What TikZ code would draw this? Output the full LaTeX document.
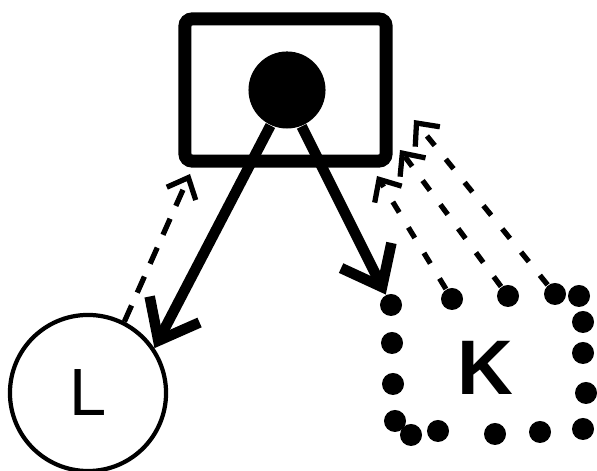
\documentclass[tikz,border=0pt]{standalone}
\usepackage{fontspec}
\setmainfont{Liberation Sans}
\usetikzlibrary{arrows.meta}
\tikzset{
  frame/.style={draw, line width=3.7pt, rounded corners=2pt, minimum width=2.01cm, minimum height=1.42cm, inner sep=0},
  hub/.style={circle, fill=black, minimum size=0.77cm, inner sep=0},
  pool/.style={circle, draw, line width=1.2pt, minimum size=1.56cm, inner sep=0, font=\fontsize{19}{19}\selectfont},
  dot/.style={circle, fill=black, minimum size=0.22cm, inner sep=0},
  heavy/.style={line width=3pt, ->, >={Straight Barb[length=10pt,width=16pt]}},
  weak/.style={line width=1.5pt, ->, >={Straight Barb[length=5pt,width=9pt]}}
}
\begin{document}
\begin{tikzpicture}[x=0.01cm,y=-0.01cm]
\useasboundingbox (0,0) rectangle (597,471);
\node[frame] (box) at (285.5,90) {};
\node[hub] (src) at (287,90) {};
\node[pool] (L) at (88,393) {L};
\foreach \i/\x/\y in {1/391/305,2/452/299,3/508/296,4/555/294,5/579/296,6/583/322,7/583/353,8/586/393,9/583/429,10/540/432,11/495/434,12/438/431,13/411/435,14/395/421,15/393/384,16/392/343}
  \node[dot] (k\i) at (\x,\y) {};
\node[font=\bfseries\fontsize{22}{22}\selectfont] (K) at (485,368) {K};

\coordinate (lhead) at (190,174);
\coordinate (khead2) at (377,176);
\coordinate (khead3) at (400,150);
\coordinate (khead4) at (414,120);

\draw[heavy] (src.245) -- (L.34);
\draw[heavy] (src.292) -- (k1);
\draw[weak, dash pattern=on 5pt off 4pt] (L.63) -- (lhead);
\foreach \i in {2,3,4}
  \draw[weak, dash pattern=on 3.5pt off 5pt] (k\i) -- (khead\i);
\end{tikzpicture}
\end{document}
